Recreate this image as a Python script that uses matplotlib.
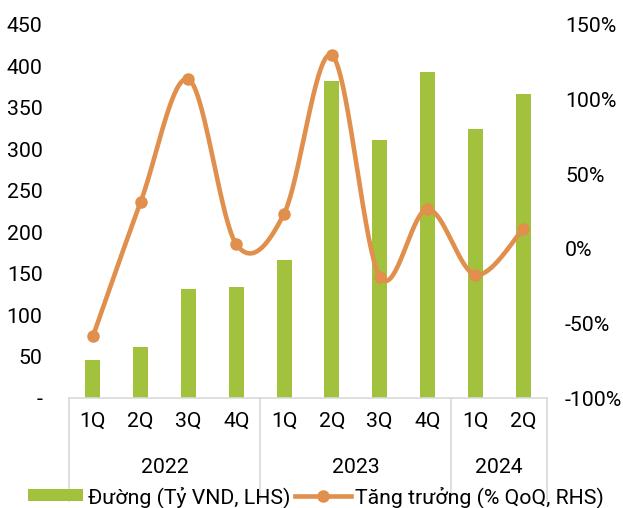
import numpy as np
import matplotlib
matplotlib.use("Agg")
import matplotlib.pyplot as plt
from matplotlib.patches import Patch
from matplotlib.lines import Line2D

plt.rcParams["font.family"] = ["Roboto", "DejaVu Sans"]

quarters = ["1Q", "2Q", "3Q", "4Q", "1Q", "2Q", "3Q", "4Q", "1Q", "2Q"]
years = ["2022", "2023", "2024"]
year_counts = [4, 4, 2]
sugar = [46, 61, 131, 134.5, 167, 383, 311, 393, 324, 367]          # Tỷ VND
growth = [-58.7, 31.5, 113.6, 3.1, 23.6, 129.7, -18.6, 26.6, -17.4, 13.2]  # % QoQ

GREEN = "#A2C23E"
ORANGE = "#E08F4C"
AXIS_GRAY = "#D9D9D9"
FS = 15.3


def smooth(xs, ys, n=40):
    # Excel-like smoothed line (Catmull-Rom bezier through the points)
    p = np.column_stack([xs, ys]).astype(float)
    pts = np.vstack([p[0], p, p[-1]])
    out = []
    t = np.linspace(0, 1, n)[:, None]
    for i in range(1, len(pts) - 2):
        p0, p1, p2, p3 = pts[i - 1], pts[i], pts[i + 1], pts[i + 2]
        c1 = p1 + (p2 - p0) / 6
        c2 = p2 - (p3 - p1) / 6
        seg = ((1 - t) ** 3) * p1 + 3 * ((1 - t) ** 2) * t * c1 + 3 * (1 - t) * t ** 2 * c2 + t ** 3 * p2
        out.append(seg if i == 1 else seg[1:])
    out = np.vstack(out)
    return out[:, 0], out[:, 1]


fig = plt.figure(figsize=(6.23, 5.08), dpi=100)
ax = fig.add_axes([69 / 623, 110 / 508, 478 / 623, 373 / 508])
x = np.arange(len(quarters))

ax.bar(x, sugar, width=0.31, color=GREEN, zorder=2)
ax.set_xlim(-0.5, len(quarters) - 0.5)
ax.set_ylim(0, 450)
ax.set_yticks(range(0, 451, 50))
ax.set_yticklabels(["-"] + [str(v) for v in range(50, 451, 50)], fontsize=FS)
ax.set_xticks(x)
ax.set_xticklabels(quarters, fontsize=FS)
ax.tick_params(axis="both", length=0)
ax.tick_params(axis="x", pad=10)
ax.tick_params(axis="y", pad=19)
for s in ["top", "right", "left"]:
    ax.spines[s].set_visible(False)
ax.spines["bottom"].set_color(AXIS_GRAY)
ax.spines["bottom"].set_linewidth(1.2)

# two-level category axis: separators and year labels
trans = ax.get_xaxis_transform()
bounds = np.concatenate([[0], np.cumsum(year_counts)]) - 0.5
for b in bounds:
    ax.plot([b, b], [0, -0.275], color=AXIS_GRAY, lw=1.2, transform=trans, clip_on=False)
for i, yr in enumerate(years):
    mid = (bounds[i] + bounds[i + 1]) / 2
    ax.text(mid, -0.185, yr, transform=trans, ha="center", va="center", fontsize=FS)

ax2 = ax.twinx()
sx, sy = smooth(x, growth)
ax2.plot(sx, sy, color=ORANGE, lw=3.3, solid_capstyle="round", zorder=3)
ax2.plot(x, growth, "o", color=ORANGE, ms=8, zorder=4)
ax2.set_ylim(-100, 150)
ax2.set_yticks(range(-100, 151, 50))
ax2.set_yticklabels([f"{v}%" for v in range(-100, 151, 50)], fontsize=FS)
ax2.tick_params(axis="y", length=0, pad=13)
for s in ax2.spines.values():
    s.set_visible(False)

handles = [
    Patch(facecolor=GREEN, edgecolor="none"),
    Line2D([0], [0], color=ORANGE, lw=3.3, marker="o", ms=8),
]
fig.legend(handles, ["Đường (Tỷ VND, LHS)", "Tăng trưởng (% QoQ, RHS)"],
           loc="center", bbox_to_anchor=(0.507, 0.022), ncol=2, frameon=False,
           fontsize=FS, handlelength=2.6, handleheight=0.5, handletextpad=0.2,
           columnspacing=0.25, borderpad=0)

fig.savefig("out.png", dpi=100)
